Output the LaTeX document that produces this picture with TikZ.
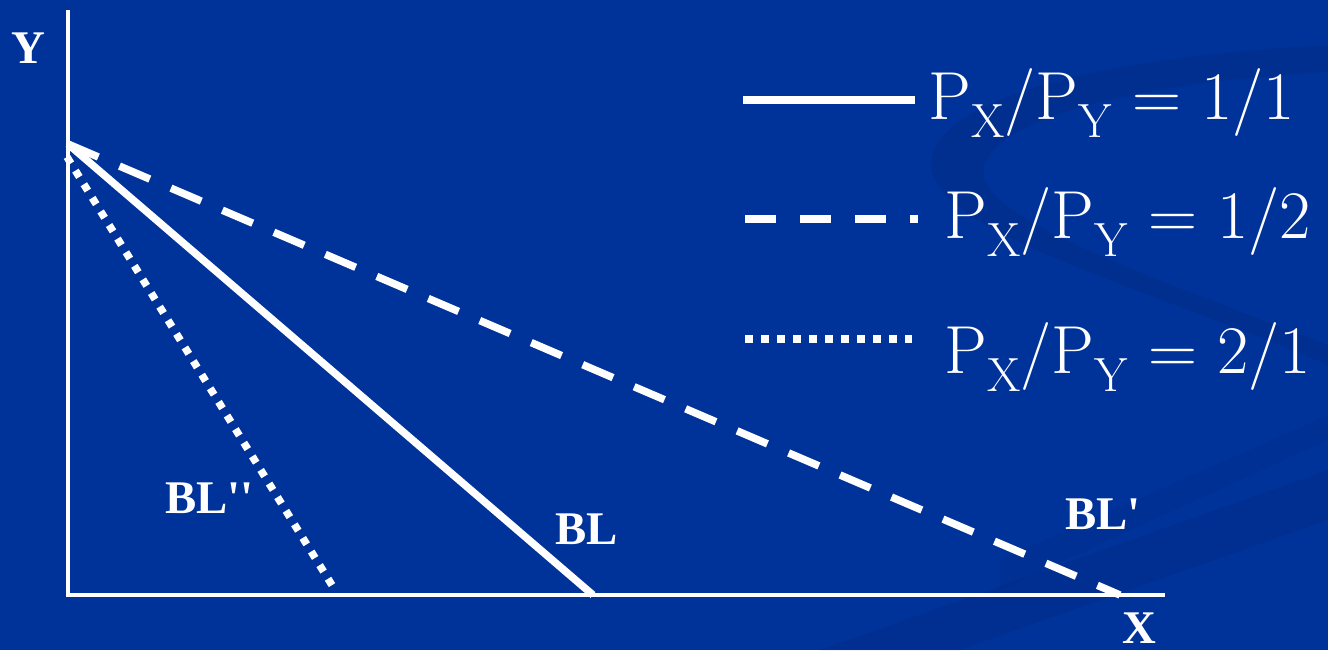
\RequirePackage{fix-cm}
\documentclass[tikz,border=0pt]{standalone}
\usepackage{fontspec}
\newfontfamily\lblfont{Liberation Serif}[Ligatures=TeXOff]
\usetikzlibrary{positioning}
\definecolor{slideblue}{RGB}{0,51,153}
\definecolor{swirlblue}{RGB}{0,43,135}

% price ratio with lowered subscripts
\newcommand{\pratio}[1]{P\raisebox{-0.27em}{\fontsize{24}{24}\selectfont X}/%
  P\raisebox{-0.27em}{\fontsize{24}{24}\selectfont Y} = #1}

\begin{document}
\begin{tikzpicture}[
    x=0.5pt, y=-0.5pt,
    axis/.style    = {white, line width=2pt},
    bline/.style   = {white, line width=3.75pt},
    bdash/.style   = {bline, dash pattern=on 16.5pt off 11.5pt},
    bdot/.style    = {bline, dash pattern=on 3.75pt off 4.25pt},
    lbl/.style     = {text=white, inner sep=0pt,
                      font=\lblfont\bfseries\fontsize{23.4}{28}\selectfont},
    legtext/.style = {text=white, inner sep=0pt,
                      font=\fontsize{34}{40}\selectfont}
  ]
  \useasboundingbox (0,0) rectangle (1328,650);
  \fill[slideblue] (0,0) rectangle (1328,650);

  % background swirl
  \fill[swirlblue, opacity=0.45] (1328,45) .. controls (1050,60) and (905,115) .. (935,180)
      .. controls (965,240) and (1150,290) .. (1328,365) -- (1328,345)
      .. controls (1160,280) and (1000,225) .. (985,180)
      .. controls (970,130) and (1100,85) .. (1328,72) -- cycle;
  \fill[swirlblue, opacity=0.4] (820,650) -- (1328,470) -- (1328,520) -- (960,650) -- cycle;
  \fill[swirlblue, opacity=0.3] (1000,560) -- (1328,415) -- (1328,440) -- (1000,590) -- cycle;

  % axes
  \coordinate (orig) at (68,595);
  \coordinate (ytop) at (68,10);
  \coordinate (xend) at (1165,595);
  \draw[axis] (ytop) -- (orig) -- (xend);
  \node[lbl, anchor=base] (ylab) at (28.5,63) {Y};
  \node[lbl, anchor=base] (xlab) at (1139,643) {X};

  % budget lines
  \coordinate (apex)  at (68,144);
  \coordinate (apex2) at (67,157);
  \coordinate (bl0)   at (593,595);
  \coordinate (bl1)   at (1120,595);
  \coordinate (bl2)   at (335,590);
  \draw[bline] (apex) -- (bl0);
  \draw[bdash] (apex) -- (bl1);
  \draw[bdot]  (apex2) -- (bl2);

  \node[lbl, anchor=base west] (blpp) at (165,513) {BL''};
  \node[lbl, anchor=base west] (bl)   at (555,544) {BL};
  \node[lbl, anchor=base west] (blp)  at (1065,529) {BL'};

  % legend
  \coordinate (la1) at (743,100);
  \coordinate (lb1) at (915,100);
  \coordinate (la2) at (745,219);
  \coordinate (lb2) at (918,219);
  \coordinate (la3) at (745,339);
  \coordinate (lb3) at (912,339);
  \draw[bline, line width=4pt] (la1) -- (lb1);
  \draw[bdash, line width=4pt, dash pattern=on 15.5pt off 12pt] (la2) -- (lb2);
  \draw[bdot, line width=4pt, dash pattern=on 3.8pt off 4.2pt] (la3) -- (lb3);
  \node[legtext, anchor=base west] (leg1) at (928,119) {\pratio{1/1}};
  \node[legtext, anchor=base west] (leg2) at (944,238) {\pratio{1/2}};
  \node[legtext, anchor=base west] (leg3) at (944,373) {\pratio{2/1}};
\end{tikzpicture}
\end{document}
